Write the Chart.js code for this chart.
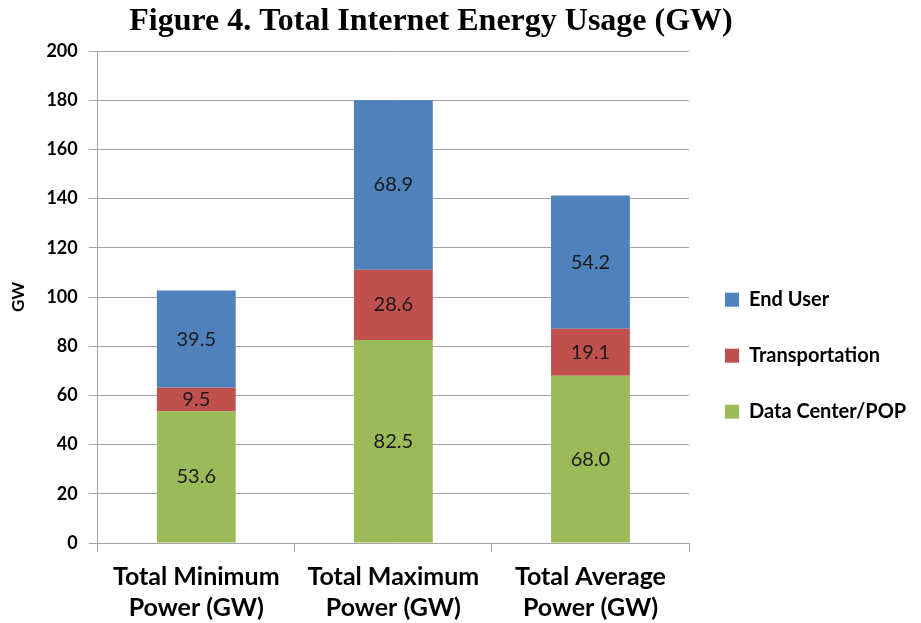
<!DOCTYPE html>
<html>
    <head>
        <script src="https://cdn.jsdelivr.net/npm/chart.js"></script>
        <style>
            body { margin: 0; background: #fff; }
            #wrap { width: 921px; height: 623px; }
        </style>
    </head>
    <body>
        <div id="wrap"><canvas id="myChart"></canvas></div>
        <script>
            const categories = [
                ['Total Minimum', 'Power (GW)'],
                ['Total Maximum', 'Power (GW)'],
                ['Total Average', 'Power (GW)']
            ];
            const dataCenter = [53.6, 82.5, 68.0];
            const transportation = [9.5, 28.6, 19.1];
            const endUser = [39.5, 68.9, 54.2];
            const yTicks = [0, 20, 40, 60, 80, 100, 120, 140, 160, 180, 200];
            const chartTitle = 'Figure 4. Total Internet Energy Usage (GW)';

            // draws the value in the middle of each bar segment
            const valueLabels = {
                id: 'valueLabels',
                afterDatasetsDraw(chart) {
                    const ctx = chart.ctx;
                    ctx.save();
                    ctx.font = '20px Lato';
                    ctx.fillStyle = '#1a1a1a';
                    ctx.textAlign = 'center';
                    ctx.textBaseline = 'middle';
                    chart.data.datasets.forEach((ds, i) => {
                        chart.getDatasetMeta(i).data.forEach((bar, j) => {
                            const y = (bar.y + bar.base) / 2;
                            ctx.fillText(ds.data[j].toFixed(1), bar.x, y);
                        });
                    });
                    ctx.restore();
                }
            };

            // the figure title sits a bit left of the canvas centre
            const figureTitle = {
                id: 'figureTitle',
                afterDraw(chart) {
                    const ctx = chart.ctx;
                    ctx.save();
                    ctx.font = 'bold 32px "Liberation Serif"';
                    ctx.fillStyle = '#000';
                    ctx.textAlign = 'center';
                    ctx.textBaseline = 'middle';
                    ctx.fillText(chartTitle, 431, 22);
                    ctx.restore();
                }
            };

            const gridColor = '#a3a3a3';
            const ctx = document.getElementById('myChart').getContext('2d');
            new Chart(ctx, {
                type: 'bar',
                data: {
                    labels: categories,
                    datasets: [
                        { label: 'Data Center/POP', data: dataCenter, backgroundColor: '#9bbb59' },
                        { label: 'Transportation', data: transportation, backgroundColor: '#c0504d' },
                        { label: 'End User', data: endUser, backgroundColor: '#4f81bd' }
                    ]
                },
                plugins: [valueLabels, figureTitle],
                options: {
                    responsive: true,
                    maintainAspectRatio: false,
                    animation: false,
                    layout: { padding: { left: 8, right: 5, top: 51, bottom: -9 } },
                    datasets: {
                        bar: { categoryPercentage: 1, barPercentage: 0.4 }
                    },
                    plugins: {
                        title: { display: false },
                        legend: {
                            position: 'right',
                            reverse: true,
                            title: { display: true, text: ' ', padding: { top: 14, bottom: 0 } },
                            labels: {
                                color: '#000',
                                font: { family: 'Lato', size: 20, weight: 'bold' },
                                boxWidth: 14,
                                boxHeight: 14,
                                padding: 36
                            }
                        },
                        tooltip: { enabled: false }
                    },
                    scales: {
                        x: {
                            stacked: true,
                            grid: { drawOnChartArea: false, color: gridColor, tickLength: 9, offset: true },
                            border: { color: gridColor },
                            ticks: {
                                color: '#000',
                                font: { family: 'Lato', size: 25, weight: 'bold', lineHeight: 1.24 },
                                padding: 9
                            }
                        },
                        y: {
                            stacked: true,
                            min: 0,
                            max: 200,
                            afterBuildTicks: (axis) => { axis.ticks = yTicks.map(v => ({ value: v })); },
                            grid: { color: gridColor, tickLength: 9 },
                            border: { color: gridColor },
                            title: {
                                display: true,
                                text: 'GW',
                                color: '#000',
                                font: { family: 'Lato', size: 17, weight: 'bold' },
                                padding: { top: 0, bottom: 7 }
                            },
                            ticks: {
                                color: '#000',
                                font: { family: 'Lato', size: 18, weight: 'bold' },
                                padding: 11
                            }
                        }
                    }
                }
            });
        </script>
    </body>
</html>
